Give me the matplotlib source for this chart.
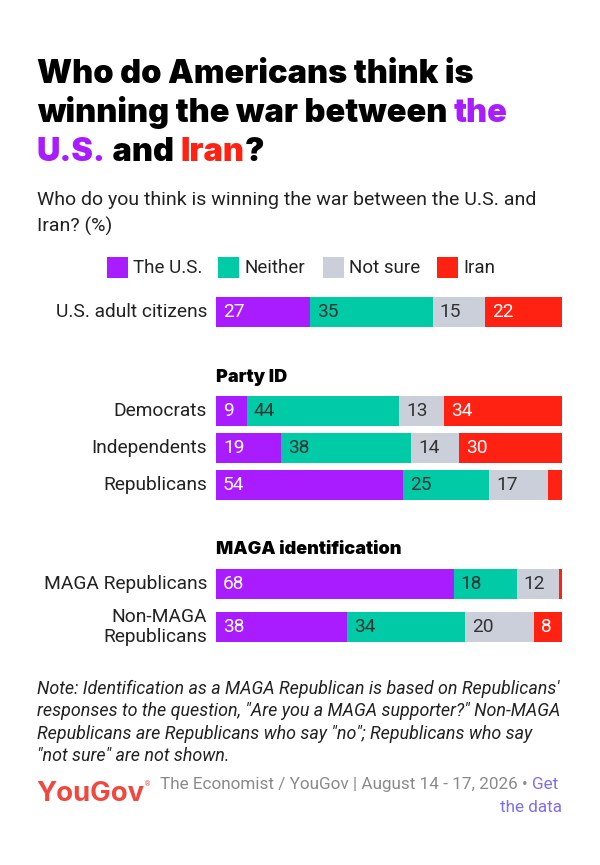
import numpy as np
import matplotlib.pyplot as plt
from matplotlib.patches import Rectangle

# data
categories = ["The U.S.", "Neither", "Not sure", "Iran"]
groups = ["U.S. adult citizens", "Democrats", "Independents", "Republicans",
          "MAGA Republicans", "Non-MAGA\nRepublicans"]
us_vals = [27, 9, 19, 54, 68, 38]
neither_vals = [35, 44, 38, 25, 18, 34]
notsure_vals = [15, 13, 14, 17, 12, 20]
iran_vals = [22, 34, 30, 4, 1, 8]

colors = ["#A91CFF", "#00CBA6", "#CACFD9", "#FF2212"]
label_colors = ["white", "#333333", "#333333", "white"]

W, H = 600, 865
fig = plt.figure(figsize=(W / 100, H / 100), dpi=100)
fig.patch.set_facecolor("white")

# pixel frame for text / legend
frame = fig.add_axes([0, 0, 1, 1])
frame.set_xlim(0, W)
frame.set_ylim(H, 0)
frame.axis("off")

body = "Roboto"
title_font = dict(family="Inter", weight="black", fontsize=23.4)

# text made of differently coloured pieces, laid out one after another
def run_text(x, y, pieces, **kw):
    r = fig.canvas.get_renderer()
    for txt, col in pieces:
        t = frame.text(x, y, txt, color=col, va="baseline", ha="left", **kw)
        bb = t.get_window_extent(renderer=r)
        x += bb.width * W / fig.bbox.width

run_text(37, 83, [("Who do Americans think is", "black")], **title_font)
run_text(37, 122, [("winning the war between ", "black"), ("the", colors[0])], **title_font)
run_text(37, 161, [("U.S.", colors[0]), (" and ", "black"), ("Iran", colors[3]), ("?", "black")], **title_font)

frame.text(37, 205, "Who do you think is winning the war between the U.S. and",
           family=body, fontsize=14, color="#222222", va="baseline")
frame.text(37, 232, "Iran? (%)", family=body, fontsize=14, color="#222222", va="baseline")

# legend
leg_x = [107, 218, 323, 437]
for lx, name, c in zip(leg_x, categories, colors):
    frame.add_patch(Rectangle((lx, 257), 21, 21, color=c, lw=0))
    frame.text(lx + 26, 268, name, family=body, fontsize=13.5, color="#222222", va="center")

# section headers
head = dict(family="Inter", weight="black", fontsize=13, color="black", va="center")
frame.text(216, 377, "Party ID", **head)
frame.text(216, 549, "MAGA identification", **head)

# bars
ax = fig.add_axes([216 / W, 0, 346 / W, 1])
ax.set_xlim(0, 100)
ax.set_ylim(H, 0)
ax.axis("off")

row_y = np.array([312, 411, 448, 485, 584, 627])
series = np.array([us_vals, neither_vals, notsure_vals, iran_vals], dtype=float)
shares = series / series.sum(axis=0) * 100

left = np.zeros(len(groups))
for i in range(len(categories)):
    ax.barh(row_y, shares[i], left=left, height=30, color=colors[i], lw=0)
    for j, v in enumerate(series[i]):
        if v >= 5:
            ax.text(left[j] + 2.0, row_y[j], f"{int(v)}", color=label_colors[i],
                    family=body, fontsize=13.8, va="center", ha="left")
    left += shares[i]

for y, g in zip(row_y, groups):
    frame.text(207, y, g, family=body, fontsize=13.8, color="#222222",
               ha="right", va="center", linespacing=1.2)

# note
note = ["Note: Identification as a MAGA Republican is based on Republicans'",
        "responses to the question, \"Are you a MAGA supporter?\" Non-MAGA",
        "Republicans are Republicans who say \"no\"; Republicans who say",
        "\"not sure\" are not shown."]
for k, line in enumerate(note):
    frame.text(37, 694 + k * 22.3, line, family=body, style="italic", fontsize=12.9,
               color="#222222", va="baseline")

# footer
frame.text(36, 801, "YouGov", family="Inter", weight="bold", fontsize=19.8, color="#F2473F", va="baseline")
frame.text(145, 786, "®", family=body, fontsize=5, color="#F2473F", va="baseline")
run_text(160, 789, [("The Economist / YouGov | August 14 - 17, 2026 \u2022 ", "#8A8A8A"),
                    ("Get", "#7B70EE")], family=body, fontsize=12.3)
frame.text(562, 812, "the data", family=body, fontsize=12.3, color="#7B70EE", va="baseline", ha="right")

fig.savefig("out.png", dpi=100, facecolor="white")
